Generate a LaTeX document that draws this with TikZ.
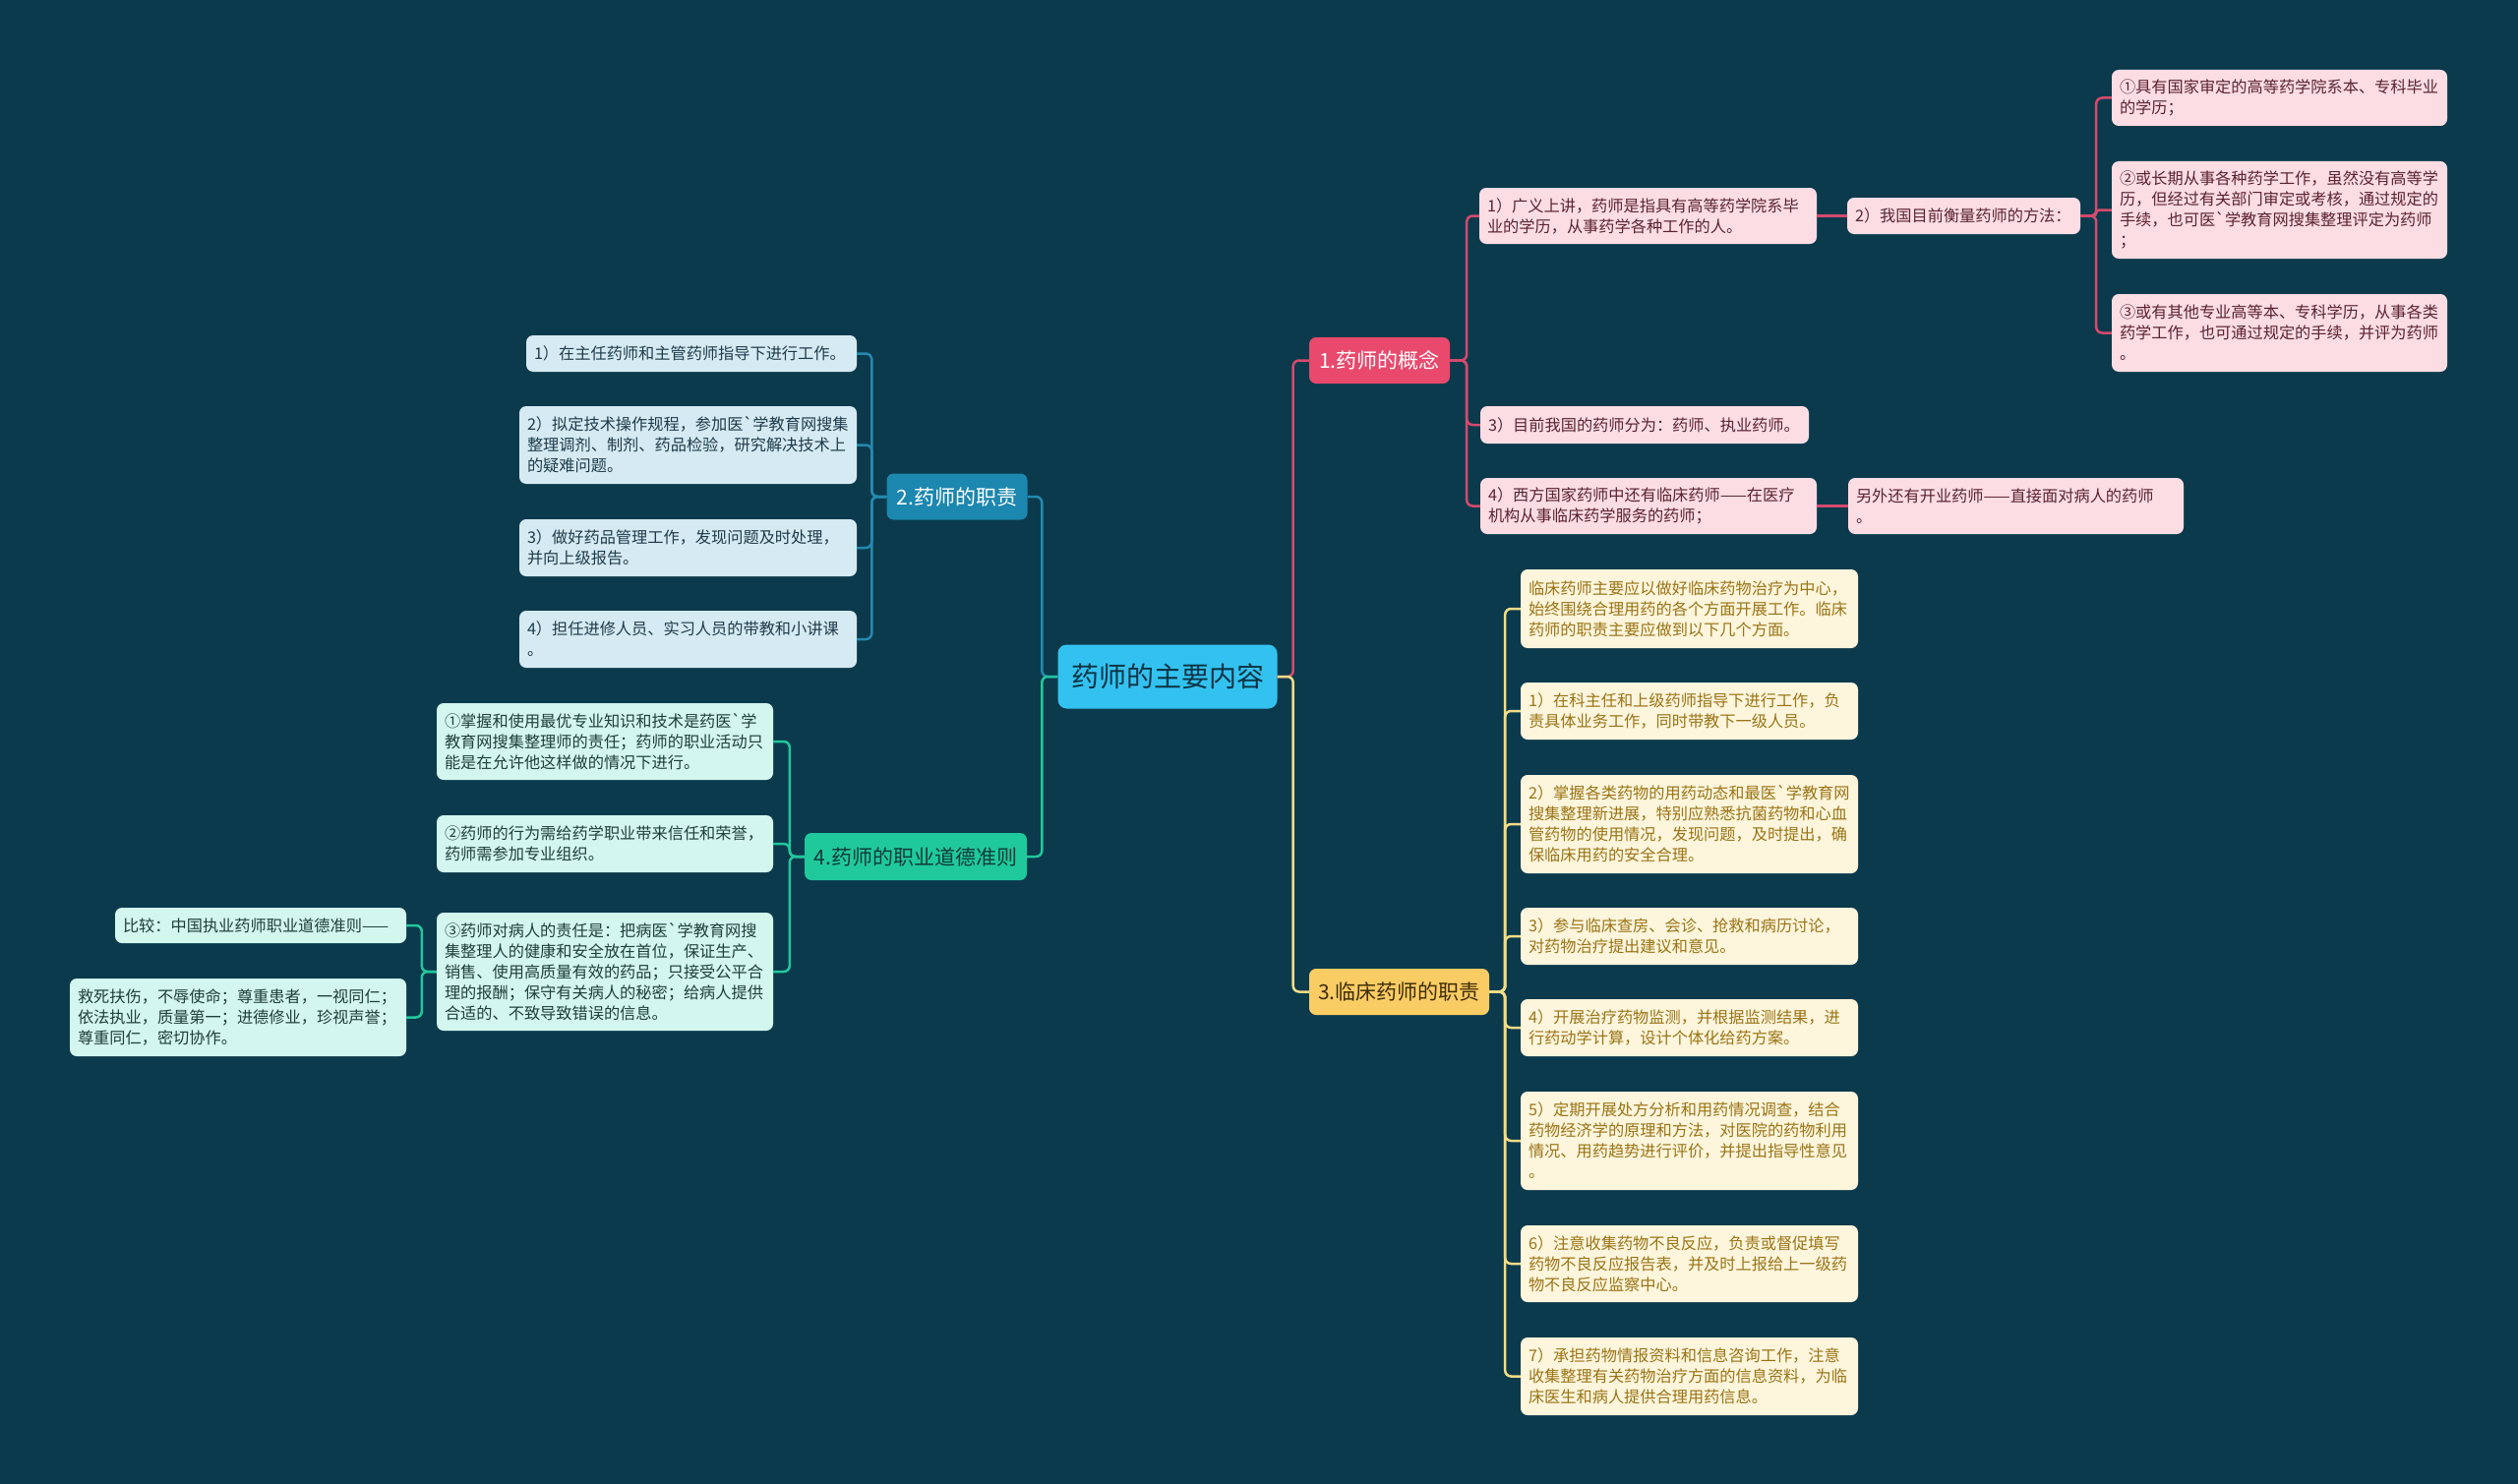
\documentclass[tikz,border=0pt]{standalone}
\usepackage{fontspec}
\newfontfamily\cjk{Noto Sans CJK SC}
\definecolor{bg}{HTML}{0B3A4C}
\definecolor{rootfill}{HTML}{33C2F0}
\definecolor{roottext}{HTML}{0B3344}
\definecolor{pkmain}{HTML}{E8496D}
\definecolor{pkfill}{HTML}{FCDDE3}
\definecolor{pktext}{HTML}{5A2332}
\definecolor{pkline}{HTML}{D64A6E}
\definecolor{ylmain}{HTML}{FACC64}
\definecolor{ylmaintext}{HTML}{3D2C05}
\definecolor{ylfill}{HTML}{FDF5DC}
\definecolor{yltext}{HTML}{9A7416}
\definecolor{ylline}{HTML}{F3DC86}
\definecolor{blmain}{HTML}{1C87AF}
\definecolor{blfill}{HTML}{D5EAF2}
\definecolor{bltext}{HTML}{1F3B4A}
\definecolor{blline}{HTML}{2589AF}
\definecolor{grmain}{HTML}{1FC99C}
\definecolor{grmaintext}{HTML}{0F3A3A}
\definecolor{grfill}{HTML}{D3F6EE}
\definecolor{grtext}{HTML}{1F3F3A}
\definecolor{grline}{HTML}{22C79C}
\begin{document}
\begin{tikzpicture}[x=1pt,y=-1pt,
  rootbox/.style={rectangle, rounded corners=9pt, fill=rootfill, text=roottext, font=\cjk\fontsize{28}{34}\selectfont, minimum width=223pt, minimum height=65pt, inner sep=0pt},
  mainbox/.style={rectangle, rounded corners=7pt, font=\cjk\fontsize{21}{26}\selectfont, inner sep=0pt, minimum height=47pt},
  leaf/.style={rectangle, rounded corners=7pt, font=\cjk\fontsize{16.2}{21}\selectfont, inner xsep=8pt, inner ysep=0pt, align=left},
  dims/.style 2 args={text width=#1pt, minimum height=#2pt},
  pk/.style={leaf, fill=pkfill, text=pktext},
  yl/.style={leaf, fill=ylfill, text=yltext},
  bl/.style={leaf, fill=blfill, text=bltext},
  gr/.style={leaf, fill=grfill, text=grtext},
  conn/.style={line width=2.5pt, rounded corners=6pt},
  pkc/.style={conn, draw=pkline},
  ylc/.style={conn, draw=ylline},
  blc/.style={conn, draw=blline},
  grc/.style={conn, draw=grline}
]
\fill[bg] (0,0) rectangle (2560,1509);
\useasboundingbox (0,0) rectangle (2560,1509);

% root
\node[rootbox] (root) at (1187,688) {药师的主要内容};

% main branches
\node[mainbox, fill=pkmain, text=white, minimum width=143pt] (n1) at (1402.5,366.5) {1.药师的概念};
\node[mainbox, fill=blmain, text=white, minimum width=143pt] (n2) at (973,505) {2.药师的职责};
\node[mainbox, fill=ylmain, text=ylmaintext, minimum width=183pt] (n3) at (1422.5,1008.5) {3.临床药师的职责};
\node[mainbox, fill=grmain, text=grmaintext, minimum width=226pt, minimum height=48pt] (n4) at (931,871) {4.药师的职业道德准则};

% pink leaves
\node[pk, dims={327}{57}] (p1) at (1675.5,219.5) {1）广义上讲，药师是指具有高等药学院系毕\\业的学历，从事药学各种工作的人。};
\node[pk, dims={221}{37}] (p2) at (1996.5,219.5) {2）我国目前衡量药师的方法：};
\node[pk, dims={325}{57}] (pa) at (2317.5,99.5) {①具有国家审定的高等药学院系本、专科毕业\\的学历；};
\node[pk, dims={325}{99}] (pb) at (2317.5,213.5) {②或长期从事各种药学工作，虽然没有高等学\\历，但经过有关部门审定或考核，通过规定的\\手续，也可医`学教育网搜集整理评定为药师\\；};
\node[pk, dims={325}{79}] (pc) at (2317.5,338.5) {③或有其他专业高等本、专科学历，从事各类\\药学工作，也可通过规定的手续，并评为药师\\。};
\node[pk, dims={318}{38}] (p3) at (1672,432) {3）目前我国的药师分为：药师、执业药师。};
\node[pk, dims={326}{57}] (p4) at (1676,514.5) {4）西方国家药师中还有临床药师——在医疗\\机构从事临床药学服务的药师；};
\node[pk, dims={325}{57}] (p5) at (2049.5,514.5) {另外还有开业药师——直接面对病人的药师\\。};

% yellow leaves
\node[yl, dims={327}{80}] (y0) at (1717.5,619) {临床药师主要应以做好临床药物治疗为中心，\\始终围绕合理用药的各个方面开展工作。临床\\药师的职责主要应做到以下几个方面。};
\node[yl, dims={327}{58}] (y1) at (1717.5,723) {1）在科主任和上级药师指导下进行工作，负\\责具体业务工作，同时带教下一级人员。};
\node[yl, dims={327}{100}] (y2) at (1717.5,838) {2）掌握各类药物的用药动态和最医`学教育网\\搜集整理新进展，特别应熟悉抗菌药物和心血\\管药物的使用情况，发现问题，及时提出，确\\保临床用药的安全合理。};
\node[yl, dims={327}{58}] (y3) at (1717.5,952) {3）参与临床查房、会诊、抢救和病历讨论，\\对药物治疗提出建议和意见。};
\node[yl, dims={327}{58}] (y4) at (1717.5,1045) {4）开展治疗药物监测，并根据监测结果，进\\行药动学计算，设计个体化给药方案。};
\node[yl, dims={327}{100}] (y5) at (1717.5,1160) {5）定期开展处方分析和用药情况调查，结合\\药物经济学的原理和方法，对医院的药物利用\\情况、用药趋势进行评价，并提出指导性意见\\。};
\node[yl, dims={327}{78}] (y6) at (1717.5,1285) {6）注意收集药物不良反应，负责或督促填写\\药物不良反应报告表，并及时上报给上一级药\\物不良反应监察中心。};
\node[yl, dims={327}{79}] (y7) at (1717.5,1399.5) {7）承担药物情报资料和信息咨询工作，注意\\收集整理有关药物治疗方面的信息资料，为临\\床医生和病人提供合理用药信息。};

% blue leaves
\node[bl, dims={320}{37}] (b1) at (703,359.5) {1）在主任药师和主管药师指导下进行工作。};
\node[bl, dims={327}{79}] (b2) at (699.5,452.5) {2）拟定技术操作规程，参加医`学教育网搜集\\整理调剂、制剂、药品检验，研究解决技术上\\的疑难问题。};
\node[bl, dims={327}{58}] (b3) at (699.5,557) {3）做好药品管理工作，发现问题及时处理，\\并向上级报告。};
\node[bl, dims={327}{58}] (b4) at (699.5,650) {4）担任进修人员、实习人员的带教和小讲课\\。};

% green leaves
\node[gr, dims={326}{78}] (g1) at (615,754) {①掌握和使用最优专业知识和技术是药医`学\\教育网搜集整理师的责任；药师的职业活动只\\能是在允许他这样做的情况下进行。};
\node[gr, dims={326}{58}] (g2) at (615,858) {②药师的行为需给药学职业带来信任和荣誉，\\药师需参加专业组织。};
\node[gr, dims={326}{120}] (g3) at (615,988) {③药师对病人的责任是：把病医`学教育网搜\\集整理人的健康和安全放在首位，保证生产、\\销售、使用高质量有效的药品；只接受公平合\\理的报酬；保守有关病人的秘密；给病人提供\\合适的、不致导致错误的信息。};
\node[gr, dims={280}{36}] (g4) at (265,941) {比较：中国执业药师职业道德准则——};
\node[gr, dims={326}{79}] (g5) at (242,1034.5) {救死扶伤，不辱使命；尊重患者，一视同仁；\\依法执业，质量第一；进德修业，珍视声誉；\\尊重同仁，密切协作。};

% connectors from root
\draw[pkc] (root.east) -- ++(16,0) |- (n1.west);
\draw[ylc] (root.east) -- ++(16,0) |- (n3.west);
\draw[blc] (root.west) -- ++(-16,0) |- (n2.east);
\draw[grc] (root.west) -- ++(-16,0) |- (n4.east);

% pink
\foreach \c in {p1,p3,p4} \draw[pkc] (n1.east) -- ++(17,0) |- (\c.west);
\draw[pkc] (p1.east) -- (p2.west);
\draw[pkc] (p4.east) -- (p5.west);
\draw[pkc] (p2.east) -- ++(16,0) |- (pa.west);
\draw[pkc, rounded corners=3pt] (p2.east) -- ++(16,0) |- (pb.west);
\draw[pkc] (p2.east) -- ++(16,0) |- (pc.west);

% yellow
\foreach \c in {y0,y1,y2,y3,y4,y5,y6,y7} \draw[ylc] (n3.east) -- ++(16,0) |- (\c.west);

% blue
\foreach \c in {b1,b2,b3,b4} \draw[blc] (n2.west) -- ++(-15,0) |- (\c.east);

% green
\foreach \c in {g1,g2,g3} \draw[grc] (n4.west) -- ++(-15,0) |- (\c.east);
\foreach \c in {g4,g5} \draw[grc] (g3.west) -- ++(-15,0) |- (\c.east);
\end{tikzpicture}
\end{document}
